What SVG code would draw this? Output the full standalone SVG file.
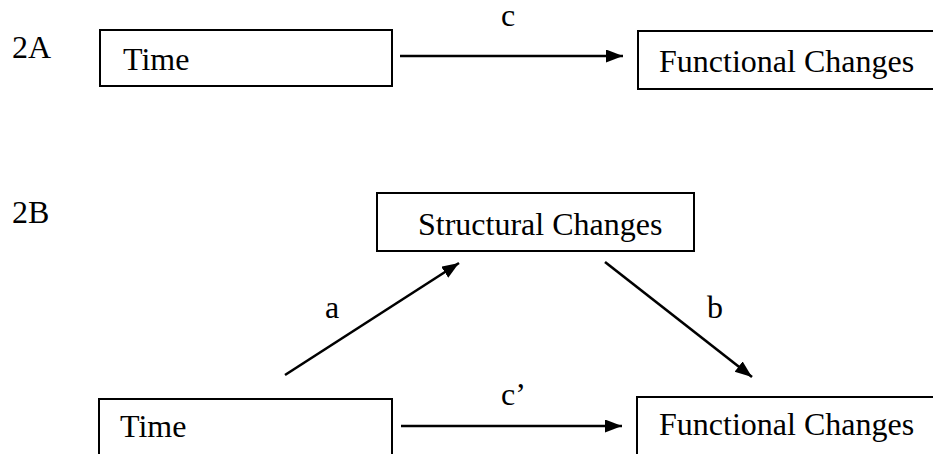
<svg xmlns="http://www.w3.org/2000/svg" width="933" height="454" viewBox="0 0 933 454">
<style>
text{font-family:"Liberation Serif","Times New Roman",serif;font-size:32px;fill:#000}
.box{fill:#fff;stroke:#000;stroke-width:2}
.edge{stroke:#000;stroke-width:2.6;fill:none}
</style>
<defs>
<marker id="ah" markerUnits="userSpaceOnUse" markerWidth="18" markerHeight="14" refX="17" refY="6.5" orient="auto">
<path d="M0,0 L17,6.5 L0,13 z" fill="#000"/>
</marker>
</defs>
<text x="12" y="58">2A</text>
<text x="12" y="223">2B</text>
<g id="time-a"><rect class="box" x="100" y="30" width="292" height="56"/><text x="123" y="70">Time</text></g>
<g id="func-a"><rect class="box" x="638" y="31" width="310" height="58"/><text x="659" y="72">Functional Changes</text></g>
<g id="struct-b"><rect class="box" x="377" y="193" width="317" height="58"/><text x="418" y="235">Structural Changes</text></g>
<g id="time-b"><rect class="box" x="99" y="399" width="293" height="58"/><text x="120" y="437">Time</text></g>
<g id="func-b"><rect class="box" x="637" y="397" width="310" height="60"/><text x="659" y="435">Functional Changes</text></g>
<g id="connectors">
<line class="edge" x1="400" y1="56" x2="623" y2="56" marker-end="url(#ah)"/>
<line class="edge" x1="285" y1="375" x2="459" y2="263" marker-end="url(#ah)"/>
<line class="edge" x1="605" y1="262" x2="752" y2="377" marker-end="url(#ah)"/>
<line class="edge" x1="401" y1="426" x2="622" y2="426" marker-end="url(#ah)"/>
<text x="501" y="26">c</text>
<text x="325" y="318">a</text>
<text x="707" y="318">b</text>
<text x="501" y="405">c’</text>
</g>
</svg>
